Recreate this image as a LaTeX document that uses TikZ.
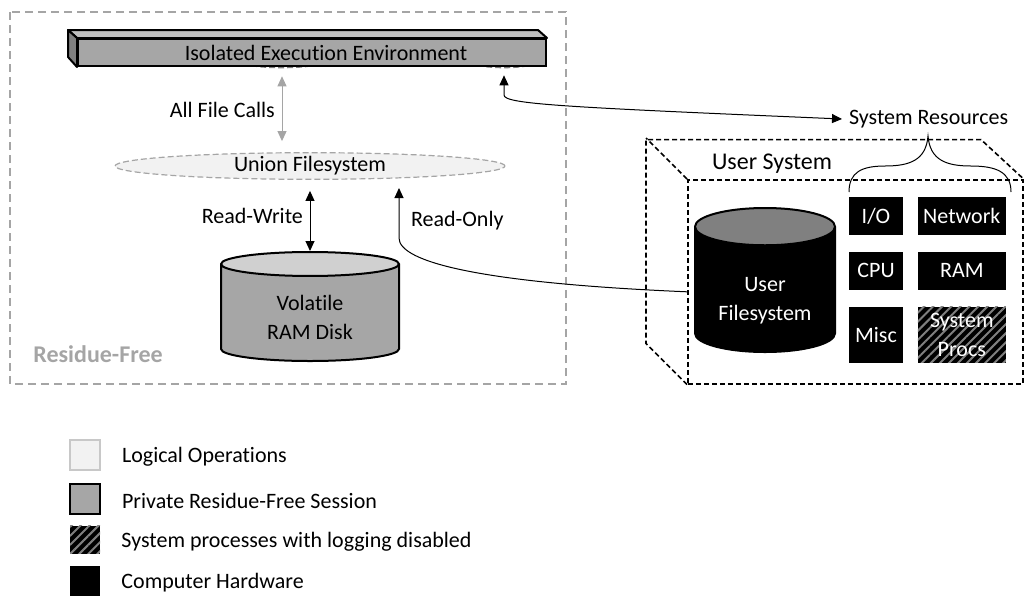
\documentclass[tikz,border=0pt]{standalone}
\usepackage{fontspec}
\setmainfont{Carlito}[Ligatures=NoCommon]
\usepackage{xcolor}
\usepackage{tikz}
\usetikzlibrary{shapes,shapes.geometric}
\usetikzlibrary{calc,arrows,arrows.meta,positioning,patterns.meta}
\definecolor{lightfill}{RGB}{242,242,242}
\definecolor{midfill}{RGB}{166,166,166}
\definecolor{topfill}{RGB}{191,191,191}
\definecolor{sidefill}{RGB}{128,128,128}
\definecolor{diskend}{RGB}{208,208,208}
\definecolor{dashgray}{RGB}{165,165,165}
\definecolor{portgray}{RGB}{125,125,125}
\definecolor{lgborder}{RGB}{200,200,200}
\tikzset{
  rfbox/.style={draw=dashgray, line width=0.8pt, dash pattern=on 4pt off 2.5pt},
  port/.style={ellipse, draw=portgray, line width=0.8pt, dash pattern=on 3pt off 1.5pt,
  inner sep=0pt, minimum height=4.5pt},
  bar/.style={draw, line width=1pt, fill=midfill, inner sep=0pt, minimum width=234pt,
  minimum height=13.5pt},
  logic/.style={ellipse, draw=dashgray, fill=lightfill, dash pattern=on 3pt off 1.5pt,
  line width=0.6pt, minimum width=195pt, minimum height=11pt, inner sep=0pt},
  disk/.style={cylinder, shape border rotate=90, draw, line width=1pt,
  cylinder uses custom fill, align=center, inner sep=0pt, anchor=shape center},
  usys/.style={draw, line width=0.8pt, dash pattern=on 2.5pt off 1.5pt},
  hw/.style={fill=black, text=white, minimum width=27pt, minimum height=19pt,
  inner sep=1pt, align=center},
  hwwide/.style={hw, minimum width=44pt},
  nolog/.style={postaction={pattern={Lines[angle=45,distance=3.2pt,line width=1pt]},
  pattern color=sidefill}},
  legbox/.style={minimum width=15pt, minimum height=15pt, inner sep=0pt},
  legtext/.style={yshift=-1pt},
  conn/.style={line width=0.5pt, >={Triangle[length=5pt,width=4.5pt]}}
}
\begin{document}
\begin{tikzpicture}[x=0.5pt, y=-0.5pt, font=\fontsize{11}{14.5}\selectfont]
    \useasboundingbox (0,0) rectangle (1033,606);
    % residue-free area
    \draw[rfbox] (10,12) rectangle (566,384);
    \node (RF) [anchor=west, text=dashgray, inner sep=0pt,
    font=\fontsize{12}{14}\selectfont\bfseries] at (33,354) {Residue-Free};
    % ports, half hidden by the bar
    \node (P1) [port, minimum width=36.5pt] at (282,63) {};
    \node (P2) [port, minimum width=29pt] at (504,63) {};
    \node (IEE) [bar, anchor=north west] at (77,38)
    {\hspace*{14pt}Isolated Execution Environment};
    \draw[line width=1pt, line join=round, fill=topfill] (IEE.north west) -- ++(-9,-8)
    -- ($(IEE.north east)+(-9,-8)$) -- (IEE.north east) -- cycle;
    \draw[line width=1pt, line join=round, fill=sidefill] (IEE.north west) -- ++(-9,-8)
    -- ++(0,27) -- (IEE.south west) -- cycle;
    \node (UFS) [logic] at (310,166) {Union Filesystem};
    \node (RAM) [disk, minimum width=89pt, minimum height=54.5pt, aspect=0.28,
    cylinder body fill=midfill, cylinder end fill=diskend] at (310,306.5)
    {\rule{0pt}{12pt}Volatile\\RAM Disk};
    \draw[conn, <->, color=dashgray, shorten <=4pt, shorten >=5.5pt] (P1.south)
    -- (P1.south |- UFS.north) node[pos=0.5, left, text=black] {All File Calls};
    \draw[conn, <->, shorten <=5.5pt] (RAM.north |- UFS.south) -- (RAM.north)
    node[midway, left] {Read-Write};
    % user system box
    \node (US) [usys, anchor=north west, minimum width=167.5pt, minimum height=102pt]
    at (687,179) {};
    \draw[usys] (US.south west) -- ++(-41,-41) -- ++(0,-204) -- ++(335,0) -- (US.north east);
    \draw[usys] (US.north west) -- ++(-41,-41);
    \node (USL) [anchor=west, font=\fontsize{12}{14}\selectfont] at (705,164) {User System};
    \node (UF) [disk, minimum width=70pt, minimum height=72pt, aspect=0.4,
    cylinder body fill=black, cylinder end fill=sidefill, text=white] at (765,280)
    {\rule{0pt}{18pt}User\\Filesystem};
    \node (IO) [hw] at (876,216) {I/O};
    \node (NET) [hwwide, right=7pt of IO] {Network};
    \node (CPU) [hw, below=8pt of IO] {CPU};
    \node (MEM) [hwwide, right=7pt of CPU] {RAM};
    \node (MISC) [hw, below=8pt of CPU, minimum height=28pt] {Misc};
    \node (SP) [hwwide, nolog, right=7pt of MISC, minimum height=28pt] {System\\Procs};
    % brace over the resources
    \coordinate (BL) at (849,192);
    \coordinate (BR) at (1011,192);
    \coordinate (BT) at (928,136);
    \draw[line width=0.5pt] (BL) .. controls (849,172) and (862,166) .. (885,166)
    .. controls (910,166) and (926,160) .. (BT)
    .. controls (930,160) and (946,166) .. (971,166)
    .. controls (996,166) and (1011,172) .. (BR);
    \node (SR) [anchor=west] at (842,119) {System Resources};
    \draw[conn, <->, shorten <=3.5pt] (P2.south) -- (504,95)
    .. controls (504,104) and (560,107) .. (SR.west);
    \coordinate (RO) at (399,188);
    \draw[conn, ->] ($(US.west)+(0,10)$) .. controls (480,283) and (399,262) .. (399,238)
    -- (RO);
    \node (ROL) [anchor=west] at (404,221) {Read-Only};
    % legend
    \node (L1) [legbox, fill=lightfill, draw=lgborder, line width=1pt] at (85,455) {};
    \node (L2) [legbox, fill=midfill, draw, line width=1pt] at (85,498.5) {};
    \node (L3) [legbox, fill=black, nolog, minimum height=14pt] at (85,539.5) {};
    \node (L4) [legbox, fill=black] at (85,580.5) {};
    \node (T1) [legtext, right=7pt of L1] {Logical Operations};
    \node (T2) [legtext, right=7pt of L2] {Private Residue-Free Session};
    \node (T3) [legtext, right=7pt of L3] {System processes with logging disabled};
    \node (T4) [legtext, right=7pt of L4] {Computer Hardware};
\end{tikzpicture}
\end{document}
